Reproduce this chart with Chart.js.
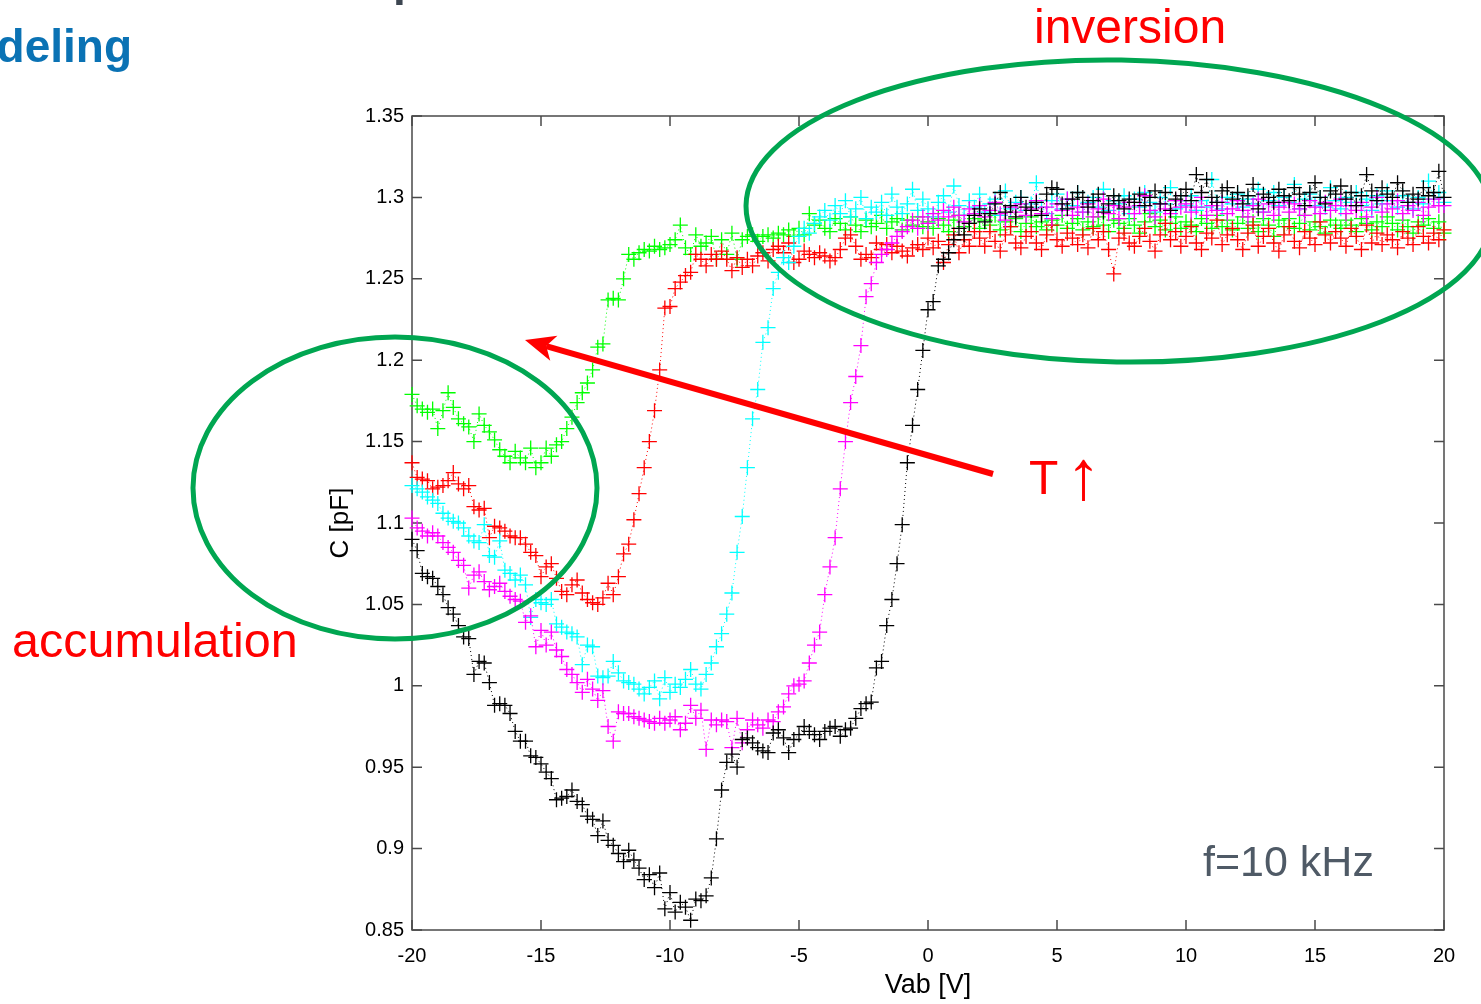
<!DOCTYPE html>
<html>
<head>
<meta charset="utf-8">
<title>C-V, f=10 kHz</title>
<script src="https://cdn.jsdelivr.net/npm/chart.js@4.4.1/dist/chart.umd.min.js"></script>
<style>
  html, body { margin: 0; padding: 0; background: #fff; overflow: hidden; }
  #cv { display: block; }
</style>
</head>
<body>
<canvas id="cv" width="1481" height="1004"></canvas>
<script>
// gate voltage sweep, 0.2 V steps
const vab = [
  -20, -19.8, -19.6, -19.4, -19.2, -19, -18.8, -18.6, -18.4, -18.2,
  -18, -17.8, -17.6, -17.4, -17.2, -17, -16.8, -16.6, -16.4, -16.2,
  -16, -15.8, -15.6, -15.4, -15.2, -15, -14.8, -14.6, -14.4, -14.2,
  -14, -13.8, -13.6, -13.4, -13.2, -13, -12.8, -12.6, -12.4, -12.2,
  -12, -11.8, -11.6, -11.4, -11.2, -11, -10.8, -10.6, -10.4, -10.2,
  -10, -9.8, -9.6, -9.4, -9.2, -9, -8.8, -8.6, -8.4, -8.2,
  -8, -7.8, -7.6, -7.4, -7.2, -7, -6.8, -6.6, -6.4, -6.2,
  -6, -5.8, -5.6, -5.4, -5.2, -5, -4.8, -4.6, -4.4, -4.2,
  -4, -3.8, -3.6, -3.4, -3.2, -3, -2.8, -2.6, -2.4, -2.2,
  -2, -1.8, -1.6, -1.4, -1.2, -1, -0.8, -0.6, -0.4, -0.2,
  0, 0.2, 0.4, 0.6, 0.8, 1, 1.2, 1.4, 1.6, 1.8,
  2, 2.2, 2.4, 2.6, 2.8, 3, 3.2, 3.4, 3.6, 3.8,
  4, 4.2, 4.4, 4.6, 4.8, 5, 5.2, 5.4, 5.6, 5.8,
  6, 6.2, 6.4, 6.6, 6.8, 7, 7.2, 7.4, 7.6, 7.8,
  8, 8.2, 8.4, 8.6, 8.8, 9, 9.2, 9.4, 9.6, 9.8,
  10, 10.2, 10.4, 10.6, 10.8, 11, 11.2, 11.4, 11.6, 11.8,
  12, 12.2, 12.4, 12.6, 12.8, 13, 13.2, 13.4, 13.6, 13.8,
  14, 14.2, 14.4, 14.6, 14.8, 15, 15.2, 15.4, 15.6, 15.8,
  16, 16.2, 16.4, 16.6, 16.8, 17, 17.2, 17.4, 17.6, 17.8,
  18, 18.2, 18.4, 18.6, 18.8, 19, 19.2, 19.4, 19.6, 19.8,
  20
];

// capacitance in pF, one curve per temperature (lowest T = black)
const cBlack = [
  1.090, 1.083, 1.069, 1.067, 1.066, 1.061, 1.056, 1.048, 1.044, 1.037,
  1.030, 1.029, 1.007, 1.015, 1.014, 1.002, 0.988, 0.989, 0.988, 0.983,
  0.972, 0.966, 0.966, 0.957, 0.956, 0.952, 0.947, 0.943, 0.930, 0.931,
  0.932, 0.936, 0.929, 0.927, 0.920, 0.918, 0.908, 0.917, 0.905, 0.902,
  0.897, 0.892, 0.899, 0.893, 0.888, 0.881, 0.884, 0.876, 0.885, 0.863,
  0.873, 0.861, 0.867, 0.864, 0.856, 0.869, 0.868, 0.871, 0.882, 0.906,
  0.936, 0.953, 0.958, 0.950, 0.967, 0.968, 0.965, 0.962, 0.960, 0.959,
  0.971, 0.973, 0.968, 0.959, 0.967, 0.970, 0.975, 0.972, 0.970, 0.967,
  0.972, 0.974, 0.975, 0.969, 0.973, 0.974, 0.980, 0.986, 0.989, 0.990,
  1.011, 1.015, 1.037, 1.053, 1.075, 1.099, 1.137, 1.160, 1.182, 1.206,
  1.231, 1.236, 1.258, 1.262, 1.266, 1.274, 1.281, 1.277, 1.284, 1.289,
  1.293, 1.285, 1.290, 1.296, 1.303, 1.291, 1.295, 1.288, 1.300, 1.294,
  1.292, 1.297, 1.289, 1.302, 1.306, 1.305, 1.296, 1.293, 1.299, 1.303,
  1.300, 1.294, 1.298, 1.302, 1.291, 1.296, 1.301, 1.298, 1.293, 1.299,
  1.297, 1.302, 1.295, 1.300, 1.304, 1.296, 1.303, 1.292, 1.299, 1.301,
  1.305, 1.298, 1.314, 1.303, 1.311, 1.300, 1.297, 1.304, 1.306, 1.299,
  1.303, 1.296, 1.301, 1.308, 1.293, 1.302, 1.300, 1.297, 1.305, 1.301,
  1.298, 1.306, 1.302, 1.295, 1.303, 1.309, 1.300, 1.296, 1.304, 1.302,
  1.307, 1.299, 1.303, 1.295, 1.301, 1.314, 1.304, 1.298, 1.306, 1.302,
  1.300, 1.309, 1.304, 1.297, 1.302, 1.299, 1.306, 1.301, 1.303, 1.316,
  1.300
];

const cMagenta = [
  1.103, 1.097, 1.095, 1.092, 1.094, 1.092, 1.088, 1.085, 1.082, 1.077,
  1.074, 1.060, 1.068, 1.070, 1.064, 1.059, 1.061, 1.063, 1.058, 1.055,
  1.053, 1.052, 1.039, 1.043, 1.024, 1.034, 1.025, 1.033, 1.022, 1.018,
  1.010, 1.007, 1.002, 0.996, 1.004, 0.998, 0.991, 0.997, 0.975, 0.966,
  0.984, 0.983, 0.983, 0.981, 0.980, 0.979, 0.978, 0.977, 0.980, 0.977,
  0.979, 0.981, 0.973, 0.977, 0.988, 0.980, 0.985, 0.961, 0.979, 0.976,
  0.979, 0.978, 0.962, 0.980, 0.965, 0.973, 0.979, 0.976, 0.974, 0.979,
  0.978, 0.984, 0.987, 0.995, 1.000, 1.001, 1.003, 1.014, 1.025, 1.033,
  1.056, 1.073, 1.091, 1.121, 1.150, 1.174, 1.190, 1.209, 1.239, 1.247,
  1.260, 1.265, 1.268, 1.272, 1.276, 1.279, 1.282, 1.286, 1.281, 1.288,
  1.284, 1.290, 1.286, 1.292, 1.288, 1.294, 1.289, 1.285, 1.293, 1.290,
  1.295, 1.288, 1.292, 1.297, 1.290, 1.286, 1.294, 1.291, 1.296, 1.289,
  1.293, 1.298, 1.290, 1.294, 1.287, 1.296, 1.292, 1.299, 1.289, 1.294,
  1.291, 1.296, 1.288, 1.293, 1.299, 1.290, 1.295, 1.287, 1.294, 1.297,
  1.290, 1.295, 1.301, 1.292, 1.288, 1.296, 1.293, 1.290, 1.298, 1.294,
  1.296, 1.291, 1.294, 1.300, 1.289, 1.295, 1.292, 1.297, 1.290, 1.293,
  1.298, 1.292, 1.288, 1.295, 1.299, 1.291, 1.296, 1.289, 1.294, 1.297,
  1.291, 1.296, 1.293, 1.289, 1.298, 1.294, 1.290, 1.297, 1.292, 1.295,
  1.299, 1.290, 1.295, 1.292, 1.297, 1.288, 1.294, 1.300, 1.291, 1.296,
  1.293, 1.298, 1.290, 1.295, 1.292, 1.297, 1.289, 1.294, 1.299, 1.295,
  1.295
];

const cCyan = [
  1.123, 1.121, 1.119, 1.116, 1.114, 1.112, 1.106, 1.103, 1.101, 1.100,
  1.097, 1.092, 1.089, 1.088, 1.099, 1.080, 1.079, 1.089, 1.071, 1.069,
  1.065, 1.068, 1.062, 1.042, 1.053, 1.051, 1.050, 1.053, 1.038, 1.036,
  1.033, 1.032, 1.030, 1.013, 1.025, 1.024, 1.006, 1.005, 1.006, 1.015,
  1.008, 1.003, 1.002, 1.001, 0.998, 0.995, 0.999, 1.003, 0.992, 1.005,
  0.996, 1.001, 0.999, 1.004, 1.010, 1.001, 0.998, 1.007, 1.014, 1.024,
  1.032, 1.044, 1.057, 1.082, 1.104, 1.134, 1.164, 1.182, 1.211, 1.220,
  1.244, 1.254, 1.263, 1.260, 1.270, 1.276, 1.281, 1.278, 1.284, 1.288,
  1.292, 1.286, 1.295, 1.290, 1.298, 1.288, 1.293, 1.300, 1.287, 1.294,
  1.291, 1.297, 1.289, 1.302, 1.294, 1.290, 1.296, 1.305, 1.292, 1.299,
  1.293, 1.288, 1.297, 1.301, 1.291, 1.307, 1.295, 1.289, 1.298, 1.294,
  1.302, 1.291, 1.296, 1.299, 1.289, 1.304, 1.293, 1.297, 1.300, 1.292,
  1.296, 1.309, 1.294, 1.290, 1.298, 1.302, 1.293, 1.299, 1.295, 1.303,
  1.291, 1.297, 1.300, 1.294, 1.305, 1.292, 1.298, 1.296, 1.301, 1.290,
  1.299, 1.294, 1.303, 1.297, 1.291, 1.300, 1.296, 1.306, 1.293, 1.298,
  1.295, 1.301, 1.292, 1.298, 1.294, 1.311, 1.297, 1.293, 1.300, 1.296,
  1.302, 1.294, 1.299, 1.296, 1.305, 1.291, 1.298, 1.303, 1.295, 1.300,
  1.297, 1.308, 1.293, 1.299, 1.302, 1.295, 1.300, 1.294, 1.306, 1.298,
  1.293, 1.300, 1.297, 1.303, 1.295, 1.299, 1.292, 1.301, 1.296, 1.304,
  1.298, 1.294, 1.301, 1.297, 1.293, 1.300, 1.296, 1.310, 1.299, 1.303,
  1.297
];

const cRed = [
  1.137, 1.128, 1.127, 1.126, 1.121, 1.122, 1.123, 1.126, 1.131, 1.124,
  1.121, 1.123, 1.110, 1.108, 1.109, 1.091, 1.098, 1.097, 1.095, 1.092,
  1.091, 1.091, 1.087, 1.082, 1.080, 1.067, 1.073, 1.075, 1.066, 1.058,
  1.056, 1.062, 1.065, 1.057, 1.053, 1.051, 1.050, 1.054, 1.063, 1.056,
  1.067, 1.081, 1.087, 1.102, 1.118, 1.134, 1.150, 1.169, 1.194, 1.232,
  1.233, 1.244, 1.248, 1.252, 1.254, 1.265, 1.262, 1.258, 1.265, 1.262,
  1.267, 1.262, 1.255, 1.263, 1.257, 1.262, 1.258, 1.264, 1.266, 1.261,
  1.268, 1.270, 1.266, 1.272, 1.260, 1.262, 1.267, 1.265, 1.263, 1.266,
  1.264, 1.261, 1.263, 1.268, 1.275, 1.277, 1.270, 1.262, 1.265, 1.263,
  1.272, 1.268, 1.271, 1.266, 1.270, 1.267, 1.264, 1.269, 1.271, 1.268,
  1.275, 1.269, 1.273, 1.260, 1.271, 1.277, 1.266, 1.274, 1.270, 1.279,
  1.275, 1.270, 1.279, 1.273, 1.267, 1.277, 1.282, 1.272, 1.269, 1.276,
  1.279, 1.272, 1.268, 1.277, 1.283, 1.274, 1.270, 1.278, 1.275, 1.271,
  1.277, 1.269, 1.281, 1.274, 1.279, 1.268, 1.253, 1.275, 1.278, 1.272,
  1.270, 1.276, 1.281, 1.273, 1.267, 1.277, 1.284, 1.274, 1.279, 1.270,
  1.276, 1.282, 1.272, 1.268, 1.278, 1.275, 1.286, 1.271, 1.277, 1.281,
  1.274, 1.268, 1.278, 1.283, 1.270, 1.276, 1.281, 1.272, 1.267, 1.277,
  1.282, 1.273, 1.269, 1.279, 1.275, 1.271, 1.285, 1.277, 1.272, 1.279,
  1.275, 1.270, 1.281, 1.276, 1.268, 1.283, 1.272, 1.278, 1.271, 1.277,
  1.274, 1.269, 1.279, 1.275, 1.271, 1.282, 1.276, 1.272, 1.278, 1.274,
  1.280
];

const cGreen = [
  1.179, 1.172, 1.170, 1.168, 1.170, 1.158, 1.169, 1.180, 1.171, 1.164,
  1.161, 1.159, 1.150, 1.167, 1.160, 1.156, 1.151, 1.145, 1.141, 1.137,
  1.144, 1.140, 1.137, 1.146, 1.134, 1.137, 1.146, 1.141, 1.148, 1.150,
  1.158, 1.165, 1.174, 1.180, 1.186, 1.194, 1.208, 1.210, 1.237, 1.238,
  1.237, 1.250, 1.265, 1.262, 1.266, 1.268, 1.267, 1.270, 1.268, 1.269,
  1.271, 1.274, 1.283, 1.269, 1.265, 1.277, 1.270, 1.272, 1.276, 1.262,
  1.274, 1.265, 1.278, 1.262, 1.274, 1.276, 1.277, 1.273, 1.276, 1.277,
  1.275, 1.278, 1.277, 1.280, 1.276, 1.281, 1.277, 1.290, 1.283, 1.286,
  1.281, 1.279, 1.287, 1.284, 1.280, 1.288, 1.283, 1.279, 1.286, 1.282,
  1.284, 1.289, 1.281, 1.285, 1.287, 1.280, 1.286, 1.283, 1.288, 1.282,
  1.285, 1.281, 1.287, 1.283, 1.279, 1.286, 1.289, 1.282, 1.284, 1.287,
  1.281, 1.286, 1.283, 1.289, 1.280, 1.285, 1.282, 1.287, 1.279, 1.284,
  1.288, 1.282, 1.285, 1.280, 1.286, 1.283, 1.289, 1.281, 1.284, 1.287,
  1.280, 1.285, 1.282, 1.288, 1.283, 1.279, 1.286, 1.284, 1.281, 1.287,
  1.283, 1.278, 1.285, 1.290, 1.282, 1.286, 1.280, 1.284, 1.288, 1.281,
  1.285, 1.283, 1.279, 1.287, 1.284, 1.281, 1.289, 1.282, 1.286, 1.280,
  1.284, 1.288, 1.281, 1.285, 1.279, 1.287, 1.283, 1.276, 1.286, 1.282,
  1.287, 1.281, 1.284, 1.289, 1.280, 1.285, 1.282, 1.278, 1.286, 1.283,
  1.281, 1.286, 1.283, 1.279, 1.287, 1.284, 1.280, 1.285, 1.282, 1.288,
  1.284, 1.280, 1.286, 1.282, 1.278, 1.285, 1.283, 1.287, 1.281, 1.285,
  1.278
];

const xTicks = [-20, -15, -10, -5, 0, 5, 10, 15, 20];
const yTicks = [0.85, 0.9, 0.95, 1, 1.05, 1.1, 1.15, 1.2, 1.25, 1.3, 1.35];

const FONT = '"Liberation Sans", Arial, Helvetica, sans-serif';

const curves = [
  { label: 'T1', values: cBlack, color: '#000000' },
  { label: 'T2', values: cMagenta, color: '#ff00ff' },
  { label: 'T3', values: cCyan, color: '#00ffff' },
  { label: 'T4', values: cRed, color: '#ff0000' },
  { label: 'T5', values: cGreen, color: '#00ff00' }
];

// box with inward ticks on all four sides, drawn under the markers
const frame = {
  id: 'frame',
  beforeDatasetsDraw(chart) {
    const { ctx, chartArea: a, scales: { x, y } } = chart;
    ctx.save();
    ctx.strokeStyle = '#4a4a4a';
    ctx.lineWidth = 1.5;
    ctx.strokeRect(a.left, a.top, a.right - a.left, a.bottom - a.top);
    ctx.beginPath();
    xTicks.forEach(v => {
      const px = x.getPixelForValue(v);
      ctx.moveTo(px, a.bottom); ctx.lineTo(px, a.bottom - 10);
      ctx.moveTo(px, a.top); ctx.lineTo(px, a.top + 10);
    });
    yTicks.forEach(v => {
      const py = y.getPixelForValue(v);
      ctx.moveTo(a.left, py); ctx.lineTo(a.left + 10, py);
      ctx.moveTo(a.right, py); ctx.lineTo(a.right - 10, py);
    });
    ctx.stroke();
    ctx.restore();
  }
};

// slide annotations: regions, arrow and labels
const notes = {
  id: 'notes',
  afterDraw(chart) {
    const ctx = chart.ctx;
    ctx.save();

    ctx.strokeStyle = '#00a651';
    ctx.lineWidth = 5;
    ctx.beginPath();
    ctx.ellipse(1119, 211, 373, 151, 0.015, 0, Math.PI * 2);
    ctx.stroke();
    ctx.beginPath();
    ctx.ellipse(395, 488, 202, 151, 0, 0, Math.PI * 2);
    ctx.stroke();

    // arrow pointing towards higher temperature
    const tail = [993, 474], tip = [525, 340];
    const dx = tip[0] - tail[0], dy = tip[1] - tail[1];
    const len = Math.hypot(dx, dy);
    const ux = dx / len, uy = dy / len, nx = -uy, ny = ux;
    const bx = tip[0] - ux * 30, by = tip[1] - uy * 30;
    const kx = tip[0] - ux * 22, ky = tip[1] - uy * 22;
    ctx.strokeStyle = '#ff0000';
    ctx.fillStyle = '#ff0000';
    ctx.lineWidth = 6;
    ctx.beginPath();
    ctx.moveTo(tail[0], tail[1]);
    ctx.lineTo(kx, ky);
    ctx.stroke();
    ctx.beginPath();
    ctx.moveTo(tip[0], tip[1]);
    ctx.lineTo(bx + nx * 13, by + ny * 13);
    ctx.lineTo(kx, ky);
    ctx.lineTo(bx - nx * 13, by - ny * 13);
    ctx.closePath();
    ctx.fill();

    ctx.textBaseline = 'alphabetic';
    ctx.textAlign = 'left';
    ctx.font = '48px ' + FONT;
    ctx.fillText('inversion', 1034, 43);
    ctx.font = '48.5px ' + FONT;
    ctx.fillText('accumulation', 12, 657);
    ctx.font = '48px ' + FONT;
    ctx.fillText('T', 1029, 494);
    ctx.font = '70px ' + FONT;
    ctx.fillText('\u2191', 1066, 499);

    ctx.fillStyle = '#4f5a66';
    ctx.font = '43px ' + FONT;
    ctx.fillText('f=10 kHz', 1203, 876);

    ctx.fillStyle = '#3d4651';
    ctx.font = 'bold 46px ' + FONT;
    ctx.fillText('p', 393, -5);

    ctx.fillStyle = '#0a72b4';
    ctx.textAlign = 'right';
    ctx.fillText('Modeling', 132, 62);

    ctx.restore();
  }
};

new Chart(document.getElementById('cv'), {
  type: 'line',
  data: {
    datasets: curves.map(c => ({
      label: c.label,
      data: vab.map((v, i) => ({ x: v, y: c.values[i] })),
      showLine: true,
      borderColor: c.color,
      borderWidth: 1,
      borderDash: [1, 3],
      tension: 0,
      fill: false,
      clip: false,
      pointStyle: 'cross',
      pointRadius: 7.5,
      pointHoverRadius: 7.5,
      pointBorderWidth: 1.3,
      pointBorderColor: c.color,
      pointBackgroundColor: c.color
    }))
  },
  options: {
    responsive: false,
    animation: false,
    devicePixelRatio: 1,
    events: [],
    layout: { padding: { left: 318, right: 37, top: 116, bottom: 0 } },
    plugins: { legend: { display: false }, tooltip: { enabled: false } },
    scales: {
      x: {
        type: 'linear',
        min: -20,
        max: 20,
        afterBuildTicks: s => { s.ticks = xTicks.map(v => ({ value: v })); },
        afterFit: s => { s.height = 74; },
        grid: { display: false, drawTicks: false },
        border: { display: false },
        ticks: { color: '#000', font: { family: FONT, size: 20 }, padding: 14, maxRotation: 0, autoSkip: false },
        title: { display: true, text: 'Vab [V]', color: '#000', font: { family: FONT, size: 27 }, padding: { top: 0, bottom: 2 } }
      },
      y: {
        type: 'linear',
        min: 0.85,
        max: 1.35,
        afterBuildTicks: s => { s.ticks = yTicks.map(v => ({ value: v })); },
        afterFit: s => { s.width = 94; },
        grid: { display: false, drawTicks: false },
        border: { display: false },
        ticks: {
          color: '#000',
          font: { family: FONT, size: 20 },
          padding: 8,
          autoSkip: false,
          callback: v => String(+v.toFixed(2))
        },
        title: { display: true, text: 'C [pF]', color: '#000', font: { family: FONT, size: 26 }, padding: { top: 7, bottom: 0 } }
      }
    }
  },
  plugins: [frame, notes]
});
</script>
</body>
</html>
